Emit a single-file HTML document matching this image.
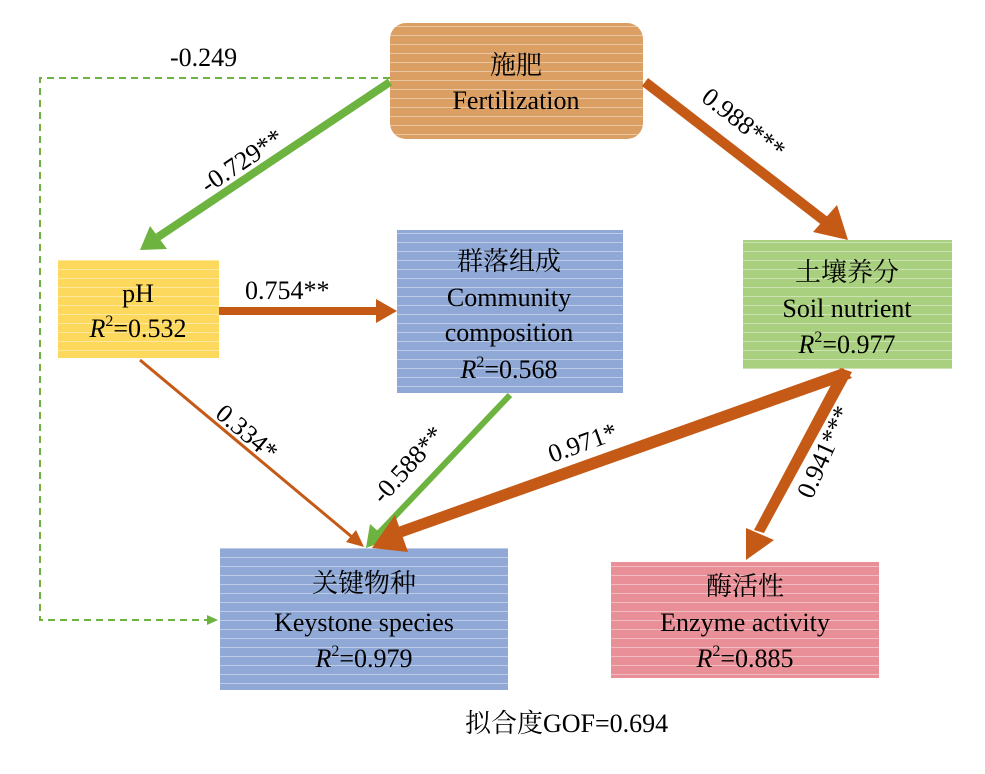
<!DOCTYPE html>
<html><head><meta charset="utf-8"><style>
html,body{margin:0;padding:0;background:#fff;}
svg text{font-family:"Liberation Serif","Noto Serif CJK SC","Noto Sans CJK SC",serif;fill:#000;}
</style></head><body>
<svg width="985" height="769" viewBox="0 0 985 769" xmlns="http://www.w3.org/2000/svg">
<defs>
<pattern id="st" width="10" height="9" patternUnits="userSpaceOnUse">
<rect y="8" width="10" height="1" fill="#fff" opacity="0.4"/>
</pattern>
</defs>
<rect x="390" y="23" width="253" height="116" rx="16" fill="#DB9E63"/>
<rect x="390" y="23" width="253" height="116" rx="16" fill="url(#st)"/>
<rect x="58" y="260" width="161" height="98" fill="#FCD95C"/>
<rect x="58" y="260" width="161" height="98" fill="url(#st)"/>
<rect x="397" y="230" width="226" height="163" fill="#8FA8D6"/>
<rect x="397" y="230" width="226" height="163" fill="url(#st)"/>
<rect x="743" y="240" width="209" height="129" fill="#A9D07E"/>
<rect x="743" y="240" width="209" height="129" fill="url(#st)"/>
<rect x="220" y="548" width="288" height="142" fill="#8FA8D6"/>
<rect x="220" y="548" width="288" height="142" fill="url(#st)"/>
<rect x="611" y="562" width="268" height="116" fill="#E88F97"/>
<rect x="611" y="562" width="268" height="116" fill="url(#st)"/>

<polyline points="390,78 40,78 40,620 208,620" fill="none" stroke="#6DB33F" stroke-width="2" stroke-dasharray="7,5"/>
<polygon points="218,620 207,615 207,625" fill="#6DB33F"/>

<g stroke-linecap="butt">
<line x1="390" y1="82" x2="158" y2="237" stroke="#6DB33F" stroke-width="8"/>
<polygon points="140,250 150,226 167,249" fill="#6DB33F"/>
<line x1="645" y1="82" x2="826" y2="222" stroke="#C45A16" stroke-width="10"/>
<polygon points="848,240 813,232 837,205" fill="#C45A16"/>
<line x1="219" y1="311" x2="378" y2="311" stroke="#C45A16" stroke-width="8"/>
<polygon points="397,311 376,299 376,323" fill="#C45A16"/>
<line x1="140" y1="360" x2="352" y2="537" stroke="#C45A16" stroke-width="3"/>
<polygon points="364,547 346,542 356,530" fill="#C45A16"/>
<line x1="510" y1="395" x2="378" y2="534" stroke="#6DB33F" stroke-width="6"/>
<polygon points="366,548 370,524 388,540" fill="#6DB33F"/>
<polygon points="843,368 852,378 400,538 395,528" fill="#C45A16"/>
<polygon points="372,548 395,515 408,552" fill="#C45A16"/>
<polygon points="840,368 852,372 764,533 754,530" fill="#C45A16"/>
<polygon points="746,560 746,528 774,540" fill="#C45A16"/>
</g>

<g font-size="26" text-anchor="middle">
<text x="516" y="74">施肥</text>
<text x="516" y="109">Fertilization</text>
<text x="138" y="302">pH</text>
<text x="138" y="337"><tspan font-style="italic">R</tspan><tspan font-size="16" dy="-11">2</tspan><tspan dy="11">=0.532</tspan></text>
<text x="509" y="270">群落组成</text>
<text x="509" y="306">Community</text>
<text x="509" y="341">composition</text>
<text x="509" y="378"><tspan font-style="italic">R</tspan><tspan font-size="16" dy="-11">2</tspan><tspan dy="11">=0.568</tspan></text>
<text x="847" y="281">土壤养分</text>
<text x="847" y="317">Soil nutrient</text>
<text x="847" y="353"><tspan font-style="italic">R</tspan><tspan font-size="16" dy="-11">2</tspan><tspan dy="11">=0.977</tspan></text>
<text x="364" y="592">关键物种</text>
<text x="364" y="631">Keystone species</text>
<text x="364" y="667"><tspan font-style="italic">R</tspan><tspan font-size="16" dy="-11">2</tspan><tspan dy="11">=0.979</tspan></text>
<text x="745" y="595">酶活性</text>
<text x="745" y="631">Enzyme activity</text>
<text x="745" y="667"><tspan font-style="italic">R</tspan><tspan font-size="16" dy="-11">2</tspan><tspan dy="11">=0.885</tspan></text>
</g>

<g font-size="26">
<text x="170" y="66">-0.249</text>
<text x="245" y="299">0.754**</text>
<text x="0" y="0" transform="translate(208,194) rotate(-34)">-0.729**</text>
<text x="0" y="0" transform="translate(700,100) rotate(38)">0.988***</text>
<text x="0" y="0" transform="translate(214,416) rotate(40)">0.334*</text>
<text x="0" y="0" transform="translate(383,505) rotate(-48)">-0.588**</text>
<text x="0" y="0" transform="translate(552,463) rotate(-20)">0.971*</text>
<text x="0" y="0" transform="translate(812,500) rotate(-66)">0.941***</text>
<text x="465" y="732">拟合度GOF=0.694</text>
</g>
</svg>
</body></html>
